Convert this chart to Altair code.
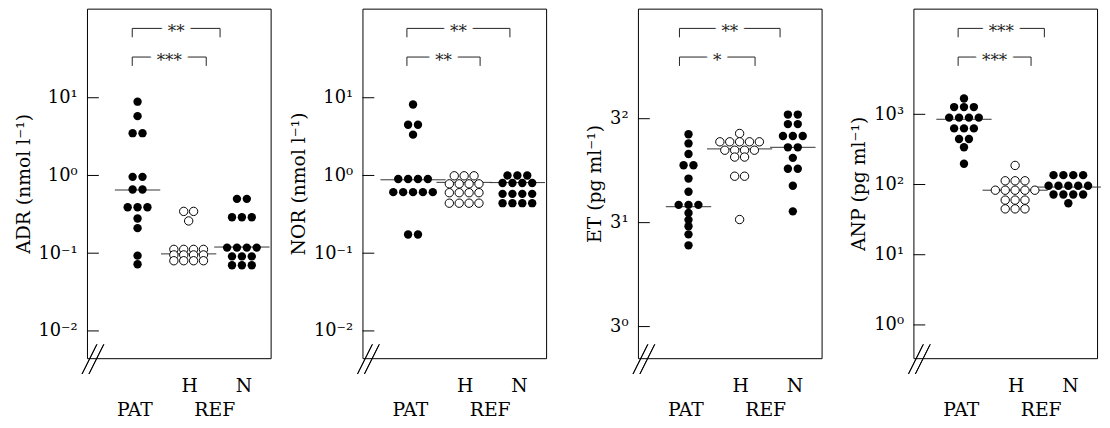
import altair as alt
import pandas as pd

# ------------------------------------------------------------------ data
GROUPS = ["PAT", "H", "N"]
GROUP_X = [1.0, 1.96, 2.96]           # category positions on the x axis
GROUP_OPEN = [False, True, False]      # H group drawn with open circles
ROW1_LABELS = ["H", "N"]
ROW1_X = [1.98, 3.0]
ROW2_LABELS = ["PAT", "REF"]
ROW2_X = [0.95, 2.45]

ADR_PAT = [8.9, 5.8, 3.5, 3.5, 0.96, 0.96, 0.66, 0.66, 0.39, 0.39, 0.39, 0.28, 0.21, 0.093, 0.072]
ADR_H = [0.345, 0.345, 0.26, 0.112, 0.112, 0.112, 0.112, 0.095, 0.095, 0.095, 0.095, 0.08, 0.08, 0.08, 0.08]
ADR_N = [0.5, 0.5, 0.29, 0.29, 0.29, 0.118, 0.118, 0.118, 0.118, 0.091, 0.091, 0.091, 0.07, 0.07, 0.07]
ADR_MEDIAN = [0.65, 0.098, 0.12]
ADR_BRACKETS = [(0.9, 2.55, "**"), (0.9, 2.29, "***")]

NOR_PAT = [8.2, 4.5, 4.5, 3.35, 0.9, 0.9, 0.9, 0.9, 0.61, 0.61, 0.61, 0.61, 0.61, 0.174, 0.174]
NOR_H = [0.99, 0.99, 0.99, 0.78, 0.78, 0.78, 0.78, 0.6, 0.6, 0.6, 0.6, 0.44, 0.44, 0.44, 0.44]
NOR_N = [1.0, 1.0, 1.0, 0.8, 0.8, 0.8, 0.8, 0.58, 0.58, 0.58, 0.58, 0.44, 0.44, 0.44, 0.44]
NOR_MEDIAN = [0.88, 0.815, 0.81]
NOR_BRACKETS = [(0.885, 2.82, "**"), (0.885, 2.26, "**")]

ET_PAT = [7.64, 6.93, 6.2, 5.5, 5.5, 4.78, 4.16, 3.62, 3.62, 3.62, 3.32, 3.09, 2.89, 2.65, 2.36]
ET_H = [7.7, 7.05, 7.05, 7.05, 7.05, 7.05, 6.45, 6.45, 6.45, 6.45, 6.0, 6.0, 4.9, 4.9, 3.1]
ET_N = [9.4, 9.4, 8.5, 8.5, 7.5, 7.5, 7.5, 6.65, 6.65, 5.95, 5.3, 5.3, 4.43, 3.38]
ET_MEDIAN = [3.55, 6.54, 6.65]
ET_BRACKETS = [(0.83, 2.72, "**"), (0.83, 2.25, "*")]

ANP_PAT = [1680, 1268, 1268, 1268, 898, 898, 898, 898, 630, 630, 630, 445, 445, 340, 198]
ANP_H = [187, 113, 113, 113, 83, 83, 83, 83, 83, 60, 60, 60, 45, 45, 45]
ANP_N = [136, 136, 136, 136, 96, 96, 96, 96, 96, 72, 72, 72, 72, 54]
ANP_MEDIAN = [850, 83, 92]
ANP_BRACKETS = [(0.89, 2.51, "***"), (0.89, 2.26, "***")]

PANELS = [
    dict(title="ADR (nmol l⁻¹)", base=10, domain=[0.00446, 140],
         ticks=[0.01, 0.1, 1, 10], labels=["10⁻²", "10⁻¹", "10⁰", "10¹"],
         values=[ADR_PAT, ADR_H, ADR_N], medians=ADR_MEDIAN, brackets=ADR_BRACKETS),
    dict(title="NOR (nmol l⁻¹)", base=10, domain=[0.00446, 140],
         ticks=[0.01, 0.1, 1, 10], labels=["10⁻²", "10⁻¹", "10⁰", "10¹"],
         values=[NOR_PAT, NOR_H, NOR_N], medians=NOR_MEDIAN, brackets=NOR_BRACKETS),
    dict(title="ET (pg ml⁻¹)", base=3, domain=[0.716, 28.8],
         ticks=[1, 3, 9], labels=["3⁰", "3¹", "3²"],
         values=[ET_PAT, ET_H, ET_N], medians=ET_MEDIAN, brackets=ET_BRACKETS),
    dict(title="ANP (pg ml⁻¹)", base=10, domain=[0.336, 32000],
         ticks=[1, 10, 100, 1000], labels=["10⁰", "10¹", "10²", "10³"],
         values=[ANP_PAT, ANP_H, ANP_N], medians=ANP_MEDIAN, brackets=ANP_BRACKETS),
]

# ------------------------------------------------------------------ layout / style
W, H = 186, 354
X_MIN, X_MAX = 0.05, 3.5
PX_PER_UNIT = W / (X_MAX - X_MIN)
DOT_STEP = 10          # px between neighbouring dots of a row
DOT_SIZE = 72
FONT = "DejaVu Serif"
BRACKET_Y = [20, 49]
BRACKET_DROP = 9


def label_expr(ticks, labels):
    expr = "''"
    for t, lab in reversed(list(zip(ticks, labels))):
        expr = f"abs(datum.value - {t}) < {t * 1e-3} ? '{lab}' : {expr}"
    return expr


def make_panel(p):
    xs = alt.Scale(domain=[X_MIN, X_MAX], nice=False, zero=False)
    ys = alt.Scale(type="log", base=p["base"], domain=p["domain"], nice=False)

    rows, med_rows = [], []
    for gx, is_open, vals, med in zip(GROUP_X, GROUP_OPEN, p["values"], p["medians"]):
        counts = {}
        for v in vals:
            counts[v] = counts.get(v, 0) + 1
        for v, k in counts.items():
            for i in range(k):
                rows.append(dict(x=gx + (i - (k - 1) / 2) * DOT_STEP / PX_PER_UNIT,
                                 v=v, open=is_open))
        hw = (max(counts.values()) * DOT_STEP / 2 + 8) / PX_PER_UNIT
        med_rows.append(dict(x=gx - hw, x2=gx + hw, v=med))
    pts = pd.DataFrame(rows)
    meds = pd.DataFrame(med_rows)

    def X(f):
        return alt.X(f"{f}:Q", scale=xs, axis=None)

    def Y(f, axis=None):
        if axis is None:
            return alt.Y(f"{f}:Q", scale=ys)
        return alt.Y(f"{f}:Q", scale=ys, axis=axis)

    yaxis = alt.Axis(values=p["ticks"], labelExpr=label_expr(p["ticks"], p["labels"]),
                     ticks=False, domain=False, grid=False, labelFont=FONT,
                     labelFontSize=18, labelColor="black", labelPadding=10,
                     labelFlush=False, labelOverlap=False,
                     title=p["title"], titleFont=FONT, titleFontSize=19,
                     titleFontWeight="normal", titleColor="black", titlePadding=5)

    ticks = alt.Chart(pd.DataFrame({"v": p["ticks"]})).mark_rule(
        color="black", strokeWidth=1).encode(
        x=alt.value(0), x2=alt.value(12), y=Y("v", yaxis))

    med = alt.Chart(meds).mark_rule(color="#333", strokeWidth=1).encode(
        x=X("x"), x2="x2:Q", y=Y("v"))

    filled = alt.Chart(pts[~pts["open"]]).mark_circle(
        size=DOT_SIZE, color="black", opacity=1).encode(x=X("x"), y=Y("v"))
    opened = alt.Chart(pts[pts["open"]]).mark_circle(
        size=DOT_SIZE, fill="white", stroke="black", strokeWidth=1, opacity=1).encode(
        x=X("x"), y=Y("v"))

    layers = [ticks, med, filled, opened]

    for lvl, (xl, xr, stars) in enumerate(p["brackets"]):
        yb = BRACKET_Y[lvl]
        bd = pd.DataFrame([dict(x1=xl, x2=xr, xm=(xl + xr) / 2, s=stars)])
        base = alt.Chart(bd)
        layers += [
            base.mark_rule(color="#222", strokeWidth=1).encode(
                x=X("x1"), x2="x2:Q", y=alt.value(yb)),
            base.mark_rule(color="#222", strokeWidth=1).encode(
                x=X("x1"), y=alt.value(yb), y2=alt.value(yb + BRACKET_DROP)),
            base.mark_rule(color="#222", strokeWidth=1).encode(
                x=X("x2"), y=alt.value(yb), y2=alt.value(yb + BRACKET_DROP)),
            base.mark_text(font=FONT, fontSize=17, color="white", stroke="white",
                           strokeWidth=9, baseline="middle", dy=4).encode(
                x=X("xm"), y=alt.value(yb), text="s:N"),
            base.mark_text(font=FONT, fontSize=17, color="#222",
                           baseline="middle", dy=4).encode(
                x=X("xm"), y=alt.value(yb), text="s:N"),
        ]

    r1 = pd.DataFrame({"x": ROW1_X, "t": ROW1_LABELS})
    r2 = pd.DataFrame({"x": ROW2_X, "t": ROW2_LABELS})
    layers += [
        alt.Chart(r1).mark_text(font=FONT, fontSize=19, color="black", baseline="middle").encode(
            x=X("x"), y=alt.value(H + 28), text="t:N"),
        alt.Chart(r2).mark_text(font=FONT, fontSize=19, color="black", baseline="middle").encode(
            x=X("x"), y=alt.value(H + 53), text="t:N"),
        # axis-break marks at the lower-left corner
        alt.Chart(r1).mark_rule(color="black", strokeWidth=1).encode(
            x=alt.value(-5), y=alt.value(H + 16), x2=alt.value(10), y2=alt.value(H - 14)),
        alt.Chart(r1).mark_rule(color="black", strokeWidth=1).encode(
            x=alt.value(2), y=alt.value(H + 16), x2=alt.value(17), y2=alt.value(H - 14)),
    ]
    return alt.layer(*layers).properties(width=W, height=H)


chart = alt.hconcat(*[make_panel(p) for p in PANELS], spacing=93, bounds="flush").properties(
    padding={"left": 5, "top": -3, "right": 0, "bottom": 0}
).configure_view(stroke="black", strokeWidth=1)

chart.save("out.html", embed_options={"renderer": "svg", "actions": False})
